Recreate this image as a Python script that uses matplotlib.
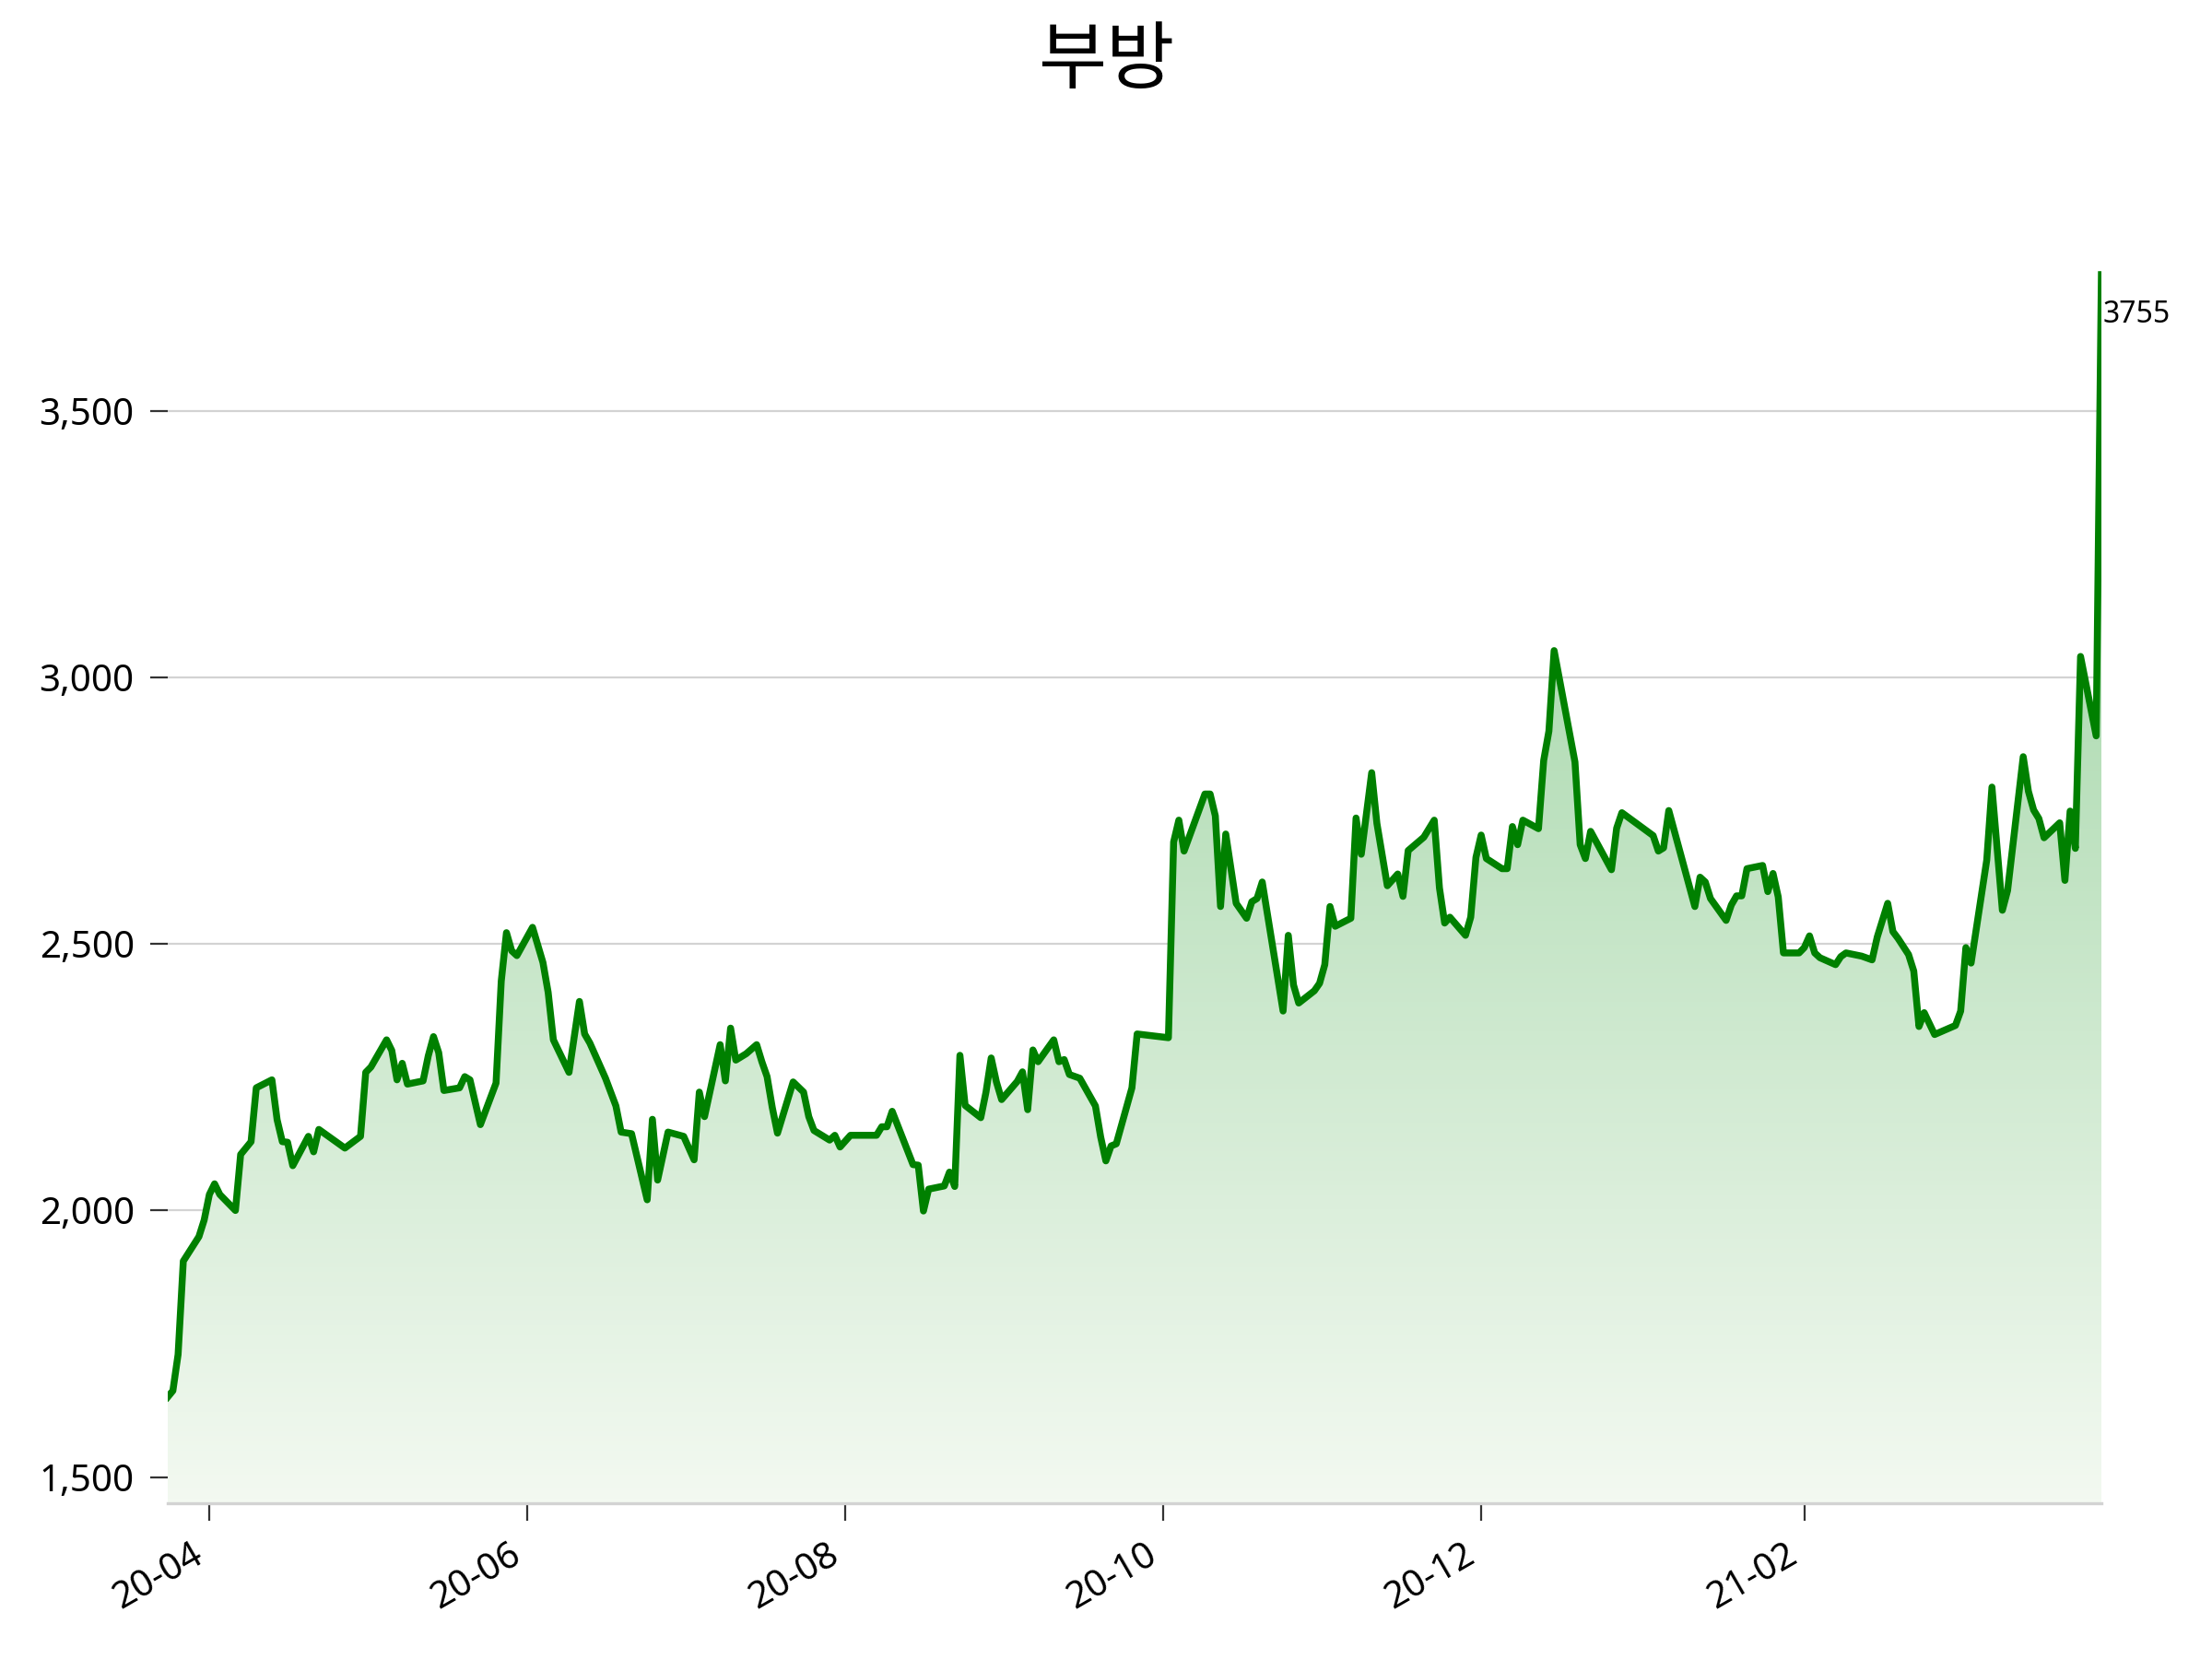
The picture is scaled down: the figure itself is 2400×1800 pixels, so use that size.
import numpy as np
import pandas as pd
import matplotlib
matplotlib.use("Agg")
import matplotlib.pyplot as plt
import matplotlib.dates as mdates
from matplotlib.ticker import FuncFormatter, FixedLocator
from matplotlib.colors import LinearSegmentedColormap

plt.rcParams['font.family'] = ['Noto Sans', 'Noto Sans CJK KR', 'DejaVu Sans']

title = '부방'

# 종가 (날짜, 값) - 그림에서 읽은 값
dates = [
    '2020-03-24', '2020-03-25', '2020-03-26', '2020-03-27', '2020-03-30', '2020-03-31',
    '2020-04-01', '2020-04-02', '2020-04-03', '2020-04-06', '2020-04-07', '2020-04-09',
    '2020-04-10', '2020-04-13', '2020-04-14', '2020-04-15', '2020-04-16', '2020-04-17',
    '2020-04-20', '2020-04-21', '2020-04-22', '2020-04-27', '2020-04-30', '2020-05-01',
    '2020-05-02', '2020-05-05', '2020-05-06', '2020-05-07', '2020-05-08', '2020-05-09',
    '2020-05-12', '2020-05-13', '2020-05-14', '2020-05-15', '2020-05-16', '2020-05-19',
    '2020-05-20', '2020-05-21', '2020-05-23', '2020-05-26', '2020-05-27', '2020-05-28',
    '2020-05-29', '2020-05-30', '2020-06-02', '2020-06-04', '2020-06-05', '2020-06-06',
    '2020-06-09', '2020-06-11', '2020-06-12', '2020-06-13', '2020-06-16', '2020-06-18',
    '2020-06-19', '2020-06-21', '2020-06-24', '2020-06-25', '2020-06-26', '2020-06-28',
    '2020-07-01', '2020-07-03', '2020-07-04', '2020-07-05', '2020-07-08', '2020-07-09',
    '2020-07-10', '2020-07-11', '2020-07-13', '2020-07-15', '2020-07-16', '2020-07-17',
    '2020-07-18', '2020-07-19', '2020-07-22', '2020-07-24', '2020-07-25', '2020-07-26',
    '2020-07-29', '2020-07-30', '2020-07-31', '2020-08-02', '2020-08-07', '2020-08-08',
    '2020-08-09', '2020-08-10', '2020-08-14', '2020-08-15', '2020-08-16', '2020-08-17',
    '2020-08-20', '2020-08-21', '2020-08-22', '2020-08-23', '2020-08-24', '2020-08-27',
    '2020-08-28', '2020-08-29', '2020-08-30', '2020-08-31', '2020-09-03', '2020-09-04',
    '2020-09-05', '2020-09-06', '2020-09-07', '2020-09-10', '2020-09-11', '2020-09-12',
    '2020-09-13', '2020-09-15', '2020-09-18', '2020-09-19', '2020-09-20', '2020-09-21',
    '2020-09-22', '2020-09-25', '2020-09-26', '2020-10-02', '2020-10-03', '2020-10-04',
    '2020-10-05', '2020-10-09', '2020-10-10', '2020-10-11', '2020-10-12', '2020-10-13',
    '2020-10-15', '2020-10-17', '2020-10-18', '2020-10-19', '2020-10-20', '2020-10-24',
    '2020-10-25', '2020-10-26', '2020-10-27', '2020-10-30', '2020-10-31', '2020-11-01',
    '2020-11-02', '2020-11-03', '2020-11-06', '2020-11-07', '2020-11-08', '2020-11-10',
    '2020-11-11', '2020-11-13', '2020-11-15', '2020-11-16', '2020-11-17', '2020-11-20',
    '2020-11-22', '2020-11-23', '2020-11-24', '2020-11-25', '2020-11-28', '2020-11-29',
    '2020-11-30', '2020-12-01', '2020-12-02', '2020-12-05', '2020-12-06', '2020-12-07',
    '2020-12-08', '2020-12-09', '2020-12-12', '2020-12-13', '2020-12-14', '2020-12-15',
    '2020-12-19', '2020-12-20', '2020-12-21', '2020-12-22', '2020-12-26', '2020-12-27',
    '2020-12-28', '2021-01-03', '2021-01-04', '2021-01-05', '2021-01-06', '2021-01-11',
    '2021-01-12', '2021-01-13', '2021-01-14', '2021-01-17', '2021-01-18', '2021-01-19',
    '2021-01-20', '2021-01-21', '2021-01-24', '2021-01-25', '2021-01-26', '2021-01-27',
    '2021-01-28', '2021-01-31', '2021-02-01', '2021-02-02', '2021-02-03', '2021-02-04',
    '2021-02-07', '2021-02-08', '2021-02-09', '2021-02-12', '2021-02-14', '2021-02-15',
    '2021-02-17', '2021-02-18', '2021-02-19', '2021-02-21', '2021-02-22', '2021-02-23',
    '2021-02-24', '2021-02-26', '2021-03-02', '2021-03-03', '2021-03-04', '2021-03-05',
    '2021-03-08', '2021-03-09', '2021-03-11', '2021-03-12', '2021-03-15', '2021-03-16',
    '2021-03-17', '2021-03-18', '2021-03-19', '2021-03-22', '2021-03-23', '2021-03-24',
    '2021-03-25', '2021-03-26', '2021-03-29', '2021-03-30',
]
close = [
    1650, 1662, 1730, 1905, 1951, 1982,
    2030, 2050, 2030, 2000, 2105, 2129,
    2230, 2245, 2170, 2129, 2128, 2084,
    2139, 2110, 2152, 2117, 2139, 2259,
    2269, 2320, 2300, 2245, 2276, 2237,
    2243, 2290, 2326, 2296, 2225, 2230,
    2251, 2245, 2161, 2239, 2430, 2521,
    2487, 2478, 2531, 2465, 2409, 2320,
    2259, 2392, 2331, 2314, 2248, 2196,
    2147, 2144, 2020, 2171, 2057, 2147,
    2139, 2095, 2222, 2176, 2311, 2243,
    2342, 2282, 2294, 2311, 2279, 2251,
    2193, 2145, 2241, 2222, 2176, 2150,
    2132, 2141, 2119, 2141, 2141, 2157,
    2157, 2186, 2086, 2085, 1999, 2040,
    2046, 2072, 2045, 2291, 2197, 2174,
    2222, 2286, 2241, 2208, 2242, 2260,
    2189, 2301, 2279, 2320, 2279, 2283,
    2255, 2248, 2196, 2138, 2093, 2121,
    2125, 2230, 2331, 2324, 2691, 2732,
    2674, 2781, 2781, 2740, 2570, 2706,
    2576, 2548, 2579, 2585, 2616, 2374,
    2516, 2423, 2389, 2412, 2426, 2461,
    2570, 2533, 2548, 2736, 2668, 2821,
    2726, 2609, 2631, 2589, 2675, 2700,
    2732, 2605, 2539, 2550, 2516, 2550,
    2662, 2704, 2660, 2641, 2641, 2720,
    2686, 2732, 2716, 2844, 2899, 3050,
    2841, 2686, 2660, 2711, 2639, 2717,
    2746, 2703, 2674, 2680, 2750, 2570,
    2625, 2616, 2585, 2544, 2573, 2590,
    2590, 2641, 2647, 2598, 2632, 2588,
    2483, 2483, 2493, 2515, 2483, 2474,
    2461, 2476, 2483, 2477, 2470, 2513,
    2576, 2523, 2510, 2480, 2449, 2345,
    2371, 2330, 2347, 2374, 2493, 2464,
    2657, 2794, 2563, 2600, 2851, 2786,
    2751, 2735, 2699, 2727, 2619, 2749,
    2679, 3039, 2890, 3755,
]

y_ticks = [1500, 2000, 2500, 3000, 3500]

x = pd.to_datetime(dates)
xn = mdates.date2num(x)
y_low = 1451
y_high = 3762

fig = plt.figure(figsize=(12, 9), dpi=200)
ax = fig.add_axes([0.0758, 0.0939, 0.8742, 0.7428])

# 그라데이션 채우기
poly = ax.fill_between(xn, close, y_low, color='none', lw=0)
cmap = LinearSegmentedColormap.from_list('grad', ['#f3f9f1', '#92cf98'])
grad = np.linspace(0, 1, 256).reshape(-1, 1)
im = ax.imshow(grad, extent=[xn[0], xn[-1], y_low, y_high], origin='lower',
               aspect='auto', cmap=cmap, zorder=1)
im.set_clip_path(poly.get_paths()[0], transform=ax.transData)

ax.plot(xn, close, color='#008000', lw=2.7, zorder=3)

ax.annotate(str(close[-1]), xy=(xn[-1], close[-1]), xytext=(0.5, -15.5),
            textcoords='offset points', va='center', ha='left', fontsize=11.5,
            annotation_clip=False)

ax.set_xlim(xn[0], xn[-1])
ax.set_ylim(y_low, y_high)

ax.yaxis.set_major_locator(FixedLocator(y_ticks))
ax.yaxis.set_major_formatter(FuncFormatter(lambda v, p: f'{v:,.0f}'))
ax.grid(axis='y', color='#d3d3d3', lw=0.8, zorder=0)
ax.set_axisbelow(True)

ax.xaxis.set_major_locator(mdates.MonthLocator(bymonth=[2, 4, 6, 8, 10, 12]))
ax.xaxis.set_major_formatter(mdates.DateFormatter('%y-%m'))
for lab in ax.get_xticklabels():
    lab.set_rotation(30)
    lab.set_ha('right')

ax.tick_params(axis='both', labelsize=14.5, length=7, width=0.8, color='#333333', pad=6)
for s in ['left', 'top', 'right']:
    ax.spines[s].set_visible(False)
ax.spines['bottom'].set_color('#d3d3d3')
ax.spines['bottom'].set_linewidth(1.2)

fig.text(0.5, 0.9617, title, ha='center', va='center', fontsize=29)

fig.savefig('out.png', dpi=200)
